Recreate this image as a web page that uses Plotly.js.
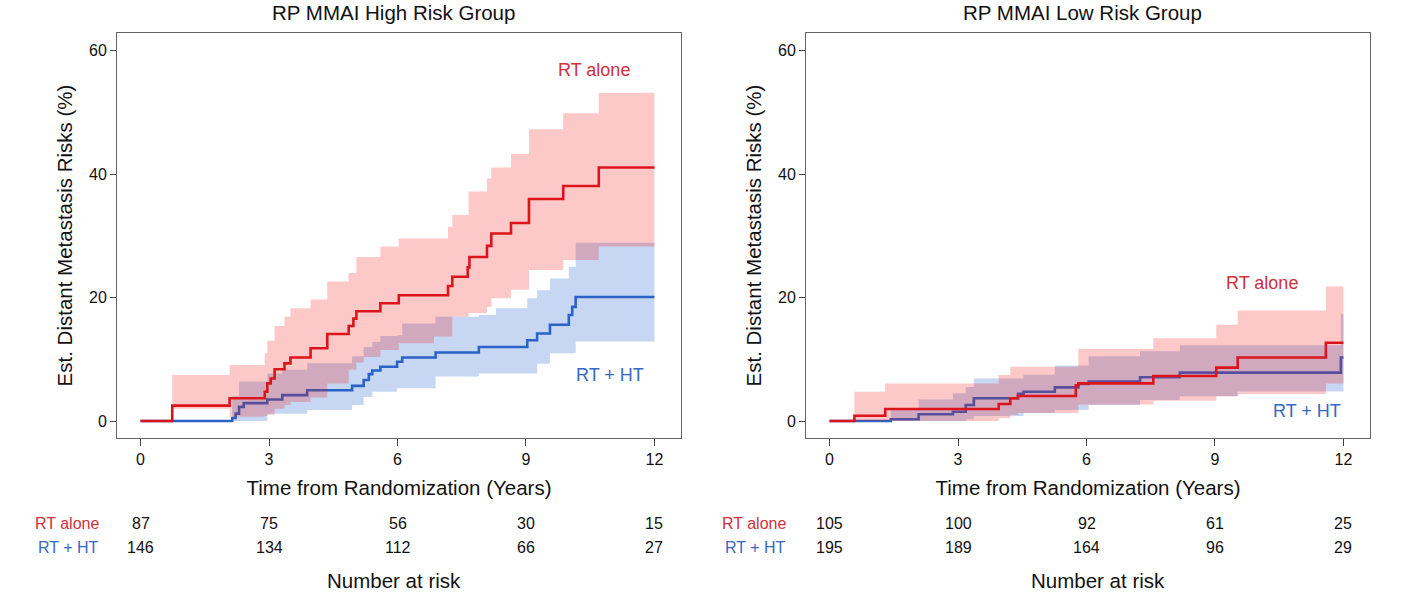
<!DOCTYPE html>
<html>
<head>
<meta charset="utf-8">
<script src="https://cdn.plot.ly/plotly-3.0.1.min.js"></script>
<style>
html,body{margin:0;padding:0;background:#fff;}
#chart{width:1409px;height:602px;}
</style>
</head>
<body>
<div id="chart"></div>
<script>
// ---------- DATA ----------
// High risk group: RT alone
const hiRtT = [0, 0.74, 2.08, 2.90, 2.96, 3.04, 3.13, 3.36, 3.50, 3.97, 4.36, 4.86, 4.97, 5.04, 5.60, 6.03, 7.18, 7.28, 7.64, 7.68, 8.09, 8.19, 8.65, 9.07, 9.87, 10.70, 12.0];
const hiRtY = [0, 2.5, 3.7, 4.75, 6.1, 6.9, 8.4, 9.35, 10.3, 11.8, 14.1, 15.4, 16.6, 17.8, 19.1, 20.4, 21.9, 23.4, 24.9, 26.6, 28.4, 30.4, 32.1, 36.0, 38.1, 41.1, 41.1];
const hiRtCiT = [0.74, 2.08, 2.90, 2.96, 3.13, 3.36, 3.50, 3.97, 4.36, 4.86, 5.04, 5.21, 5.60, 6.03, 6.85, 7.18, 7.28, 7.66, 8.09, 8.19, 8.65, 9.07, 9.87, 10.70, 12.0];
const hiRtUp = [7.45, 9.1, 11.0, 13.0, 15.4, 16.9, 18.3, 19.7, 22.6, 24.0, 26.6, 26.6, 28.3, 29.6, 29.6, 31.5, 33.4, 37.2, 39.3, 41.1, 43.3, 47.3, 49.9, 53.2, 53.2];
const hiRtLo = [2.0, 0.7, 0.8, 1.0, 2.0, 2.6, 3.1, 3.8, 6.1, 8.3, 9.5, 10.4, 11.5, 12.6, 13.7, 13.7, 16.9, 17.5, 18.5, 19.9, 21.3, 24.5, 26.1, 28.3, 28.3];
// High risk group: RT + HT
const hiHtT = [0, 2.14, 2.22, 2.30, 2.41, 2.96, 3.31, 3.89, 4.94, 5.21, 5.33, 5.41, 5.60, 5.99, 6.11, 6.89, 7.90, 9.03, 9.26, 9.56, 10.00, 10.08, 10.16, 12.0];
const hiHtY = [0, 0.5, 1.2, 2.3, 2.9, 3.5, 4.2, 5.0, 5.7, 6.65, 7.6, 8.2, 8.8, 9.6, 10.3, 11.1, 12.0, 13.1, 14.2, 15.6, 17.2, 18.5, 20.1, 20.1];
const hiHtCiT = [2.14, 2.30, 2.96, 3.31, 3.89, 4.94, 5.21, 5.41, 5.60, 5.99, 6.11, 6.89, 7.90, 8.30, 9.03, 9.26, 9.56, 10.00, 10.16, 12.0];
const hiHtUp = [4.0, 6.4, 7.7, 8.3, 9.35, 10.5, 12.0, 12.8, 13.8, 13.9, 15.8, 16.9, 17.2, 18.3, 19.9, 21.2, 23.1, 25.0, 28.9, 28.9];
const hiHtLo = [0, 0, 1.2, 1.2, 1.8, 2.6, 3.9, 4.75, 4.75, 5.3, 5.3, 7.2, 7.7, 7.7, 7.7, 9.3, 11.0, 11.0, 12.9, 12.9];

// Low risk group: RT alone
const loRtT = [0, 0.58, 1.30, 3.95, 4.22, 4.40, 5.75, 5.81, 7.56, 9.03, 9.53, 11.59, 12.0];
const loRtY = [0, 0.86, 1.95, 2.75, 3.7, 4.05, 5.8, 6.1, 7.3, 8.65, 10.3, 12.7, 12.7];
const loRtCiT = [0.58, 1.30, 3.95, 4.22, 4.40, 5.81, 7.56, 9.03, 9.53, 11.59, 12.0];
const loRtUp = [4.75, 6.1, 7.45, 8.8, 8.8, 11.7, 13.4, 15.6, 17.9, 21.8, 21.8];
const loRtLo = [0, 0, 0.5, 1.0, 1.3, 2.7, 3.3, 4.0, 4.4, 6.1, 6.1];
// Low risk group: RT + HT
const loHtT = [0, 1.43, 2.08, 2.88, 3.18, 3.37, 4.40, 4.53, 5.26, 5.81, 6.05, 7.25, 8.18, 11.94, 12.0];
const loHtY = [0, 0.3, 1.1, 1.5, 2.6, 3.7, 4.4, 4.75, 5.45, 6.0, 6.4, 7.1, 7.85, 10.3, 10.3];
const loHtCiT = [1.43, 2.08, 2.88, 3.18, 3.37, 4.53, 5.26, 6.05, 7.25, 8.18, 9.53, 11.94, 12.0];
const loHtUp = [2.0, 3.5, 4.5, 5.5, 6.9, 7.5, 9.0, 10.5, 11.3, 12.3, 12.3, 17.4, 17.4];
const loHtLo = [0, 0, 0, 0.3, 0.8, 1.3, 1.8, 2.6, 3.4, 4.0, 4.8, 4.8, 4.8];

// Number at risk
const riskTimes = [0, 3, 6, 9, 12];
const hiRiskRt = [87, 75, 56, 30, 15];
const hiRiskHt = [146, 134, 112, 66, 27];
const loRiskRt = [105, 100, 92, 61, 25];
const loRiskHt = [195, 189, 164, 96, 29];

const groupLabels = ['RT alone', 'RT + HT'];
const panelTitles = ['RP MMAI High Risk Group', 'RP MMAI Low Risk Group'];
const xTicks = [0, 3, 6, 9, 12];
const yTicks = [0, 20, 40, 60];

// ---------- STYLE ----------
const FONT = 'Liberation Sans, Arial, sans-serif';
const RED = '#DC141C';
const BLUE = '#2A62C6';
const RED_TXT = '#D0313A';
const BLUE_TXT = '#3569C4';
const RED_FILL = 'rgba(242,16,16,0.23)';
const BLUE_FILL = 'rgba(40,100,210,0.26)';
const BIG = 20.5;
const SMALL = 16;

function band(t, lo, up, fill, xa, ya) {
  return [
    {x: t, y: lo, xaxis: xa, yaxis: ya, mode: 'lines', line: {width: 0, shape: 'hv'}, hoverinfo: 'skip', showlegend: false},
    {x: t, y: up, xaxis: xa, yaxis: ya, mode: 'lines', line: {width: 0, shape: 'hv'}, fill: 'tonexty', fillcolor: fill, hoverinfo: 'skip', showlegend: false}
  ];
}
function curve(t, y, color, xa, ya) {
  return {x: t, y: y, xaxis: xa, yaxis: ya, mode: 'lines', line: {color: color, width: 2.6, shape: 'hv'}, showlegend: false};
}

const traces = [].concat(
  band(hiHtCiT, hiHtLo, hiHtUp, BLUE_FILL, 'x', 'y'),
  [curve(hiHtT, hiHtY, BLUE, 'x', 'y')],
  band(hiRtCiT, hiRtLo, hiRtUp, RED_FILL, 'x', 'y'),
  [curve(hiRtT, hiRtY, RED, 'x', 'y')],
  band(loHtCiT, loHtLo, loHtUp, BLUE_FILL, 'x2', 'y2'),
  [curve(loHtT, loHtY, BLUE, 'x2', 'y2')],
  band(loRtCiT, loRtLo, loRtUp, RED_FILL, 'x2', 'y2'),
  [curve(loRtT, loRtY, RED, 'x2', 'y2')]
);

const W = 1409, H = 602;
const yDom = [1 - 438 / H, 1 - 33 / H];
const xDom1 = [117 / W, 681 / W];
const xDom2 = [806 / W, 1370 / W];

function xAxis(dom, anchor) {
  return {
    domain: dom, anchor: anchor, range: [-0.55, 12.62],
    tickvals: xTicks, ticktext: xTicks.map(String),
    ticks: 'outside', ticklen: 7, tickwidth: 1, tickcolor: '#444',
    showline: true, mirror: true, linecolor: '#666', linewidth: 1,
    showgrid: false, zeroline: false,
    tickfont: {family: FONT, size: SMALL, color: '#111'},
    title: {text: 'Time from Randomization (Years)', font: {family: FONT, size: BIG, color: '#111'}, standoff: 13}
  };
}
function yAxis(dom, anchor) {
  return {
    domain: dom, anchor: anchor, range: [-2.75, 62.9],
    tickvals: yTicks, ticktext: yTicks.map(String),
    ticks: 'outside', ticklen: 6, tickwidth: 1, tickcolor: '#444',
    showline: true, mirror: true, linecolor: '#666', linewidth: 1,
    showgrid: false, zeroline: false,
    tickfont: {family: FONT, size: SMALL, color: '#111'},
    title: {text: 'Est. Distant Metastasis Risks (%)', font: {family: FONT, size: BIG, color: '#111'}, standoff: 10}
  };
}

const ann = [];
// panel titles
ann.push({text: panelTitles[0], xref: 'paper', yref: 'paper', x: 394 / W, y: 1 - 13 / H, showarrow: false, xanchor: 'center', yanchor: 'middle', font: {family: FONT, size: BIG, color: '#111'}});
ann.push({text: panelTitles[1], xref: 'paper', yref: 'paper', x: 1082 / W, y: 1 - 13 / H, showarrow: false, xanchor: 'center', yanchor: 'middle', font: {family: FONT, size: BIG, color: '#111'}});
// in-plot labels
ann.push({text: groupLabels[0], xref: 'x', yref: 'y', x: 10.58, y: 56.9, showarrow: false, font: {family: FONT, size: 18, color: RED_TXT}});
ann.push({text: groupLabels[1], xref: 'x', yref: 'y', x: 10.97, y: 7.5, showarrow: false, font: {family: FONT, size: 18, color: BLUE_TXT}});
ann.push({text: groupLabels[0], xref: 'x2', yref: 'y2', x: 10.1, y: 22.4, showarrow: false, font: {family: FONT, size: 18, color: RED_TXT}});
ann.push({text: groupLabels[1], xref: 'x2', yref: 'y2', x: 11.16, y: 1.6, showarrow: false, font: {family: FONT, size: 18, color: BLUE_TXT}});

// risk tables
const rowY = [1 - 523 / H, 1 - 547 / H];
function riskTable(xa, labelX, rt, ht) {
  ann.push({text: groupLabels[0], xref: 'paper', yref: 'paper', x: labelX, y: rowY[0], xanchor: 'right', yanchor: 'middle', showarrow: false, font: {family: FONT, size: SMALL, color: RED_TXT}});
  ann.push({text: groupLabels[1], xref: 'paper', yref: 'paper', x: labelX, y: rowY[1], xanchor: 'right', yanchor: 'middle', showarrow: false, font: {family: FONT, size: SMALL, color: BLUE_TXT}});
  riskTimes.forEach((t, i) => {
    ann.push({text: String(rt[i]), xref: xa, yref: 'paper', x: t, y: rowY[0], xanchor: 'center', yanchor: 'middle', showarrow: false, font: {family: FONT, size: SMALL, color: '#111'}});
    ann.push({text: String(ht[i]), xref: xa, yref: 'paper', x: t, y: rowY[1], xanchor: 'center', yanchor: 'middle', showarrow: false, font: {family: FONT, size: SMALL, color: '#111'}});
  });
}
riskTable('x', 101 / W, hiRiskRt, hiRiskHt);
riskTable('x2', 788 / W, loRiskRt, loRiskHt);
ann.push({text: 'Number at risk', xref: 'paper', yref: 'paper', x: 394 / W, y: 1 - 580 / H, showarrow: false, xanchor: 'center', yanchor: 'middle', font: {family: FONT, size: BIG, color: '#111'}});
ann.push({text: 'Number at risk', xref: 'paper', yref: 'paper', x: 1098 / W, y: 1 - 580 / H, showarrow: false, xanchor: 'center', yanchor: 'middle', font: {family: FONT, size: BIG, color: '#111'}});

const layout = {
  width: W, height: H,
  margin: {l: 0, r: 0, t: 0, b: 0},
  paper_bgcolor: '#fff', plot_bgcolor: '#fff',
  font: {family: FONT},
  showlegend: false,
  xaxis: xAxis(xDom1, 'y'),
  yaxis: yAxis(yDom, 'x'),
  xaxis2: xAxis(xDom2, 'y2'),
  yaxis2: yAxis(yDom, 'x2'),
  annotations: ann
};

Plotly.newPlot('chart', traces, layout, {displayModeBar: false, staticPlot: true});
</script>
</body>
</html>
